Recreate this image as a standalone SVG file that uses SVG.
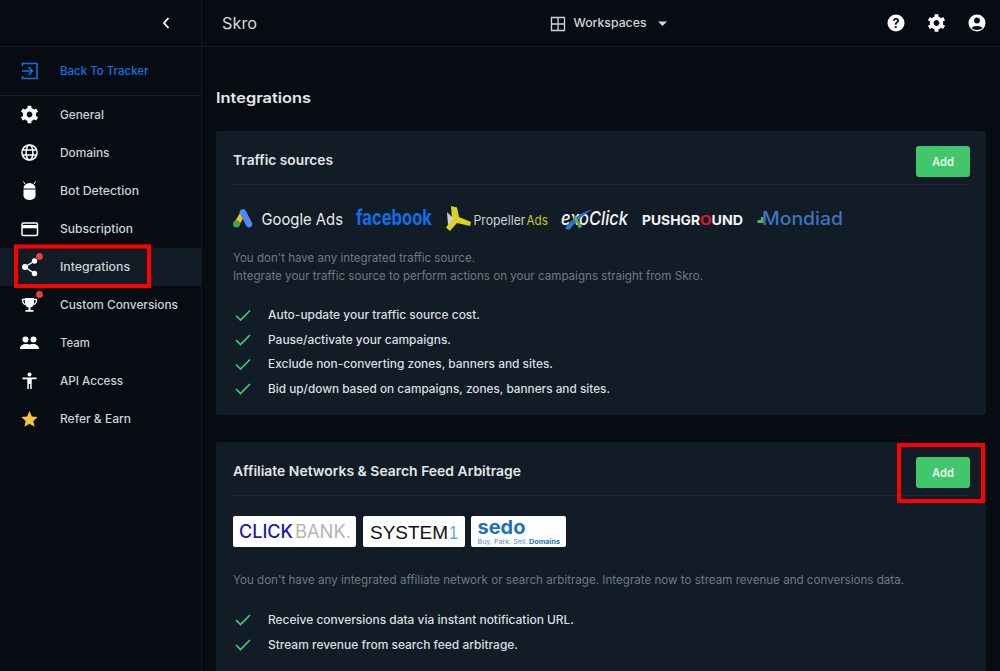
<svg xmlns="http://www.w3.org/2000/svg" xmlns:xlink="http://www.w3.org/1999/xlink" width="1000" height="671" viewBox="0 0 1000 671">
<style>
text{font-family:Inter,"Noto Sans","Liberation Sans",sans-serif}
.m{font-size:11.5px;font-weight:500;fill:#d0d3d6}
.h{font-size:13.5px;font-weight:600;fill:#e4e6e8}
.g{font-size:11.5px;fill:#6f7a82}
.l{font-size:11.5px;font-weight:500;fill:#dcdfe1}
.i{fill:#fff}
.c{fill:none;stroke:#3fd06f;stroke-width:1.6}
.card{fill:#111c26}
.div{stroke:#1c2833;stroke-width:1}
.btn{fill:#42c66b}
.bt{font-size:12px;font-weight:600;fill:#e8f6ec;text-anchor:middle}
.red{fill:none;stroke:#f00;stroke-width:4}
.logo{fill:#fff}
.dot{fill:#f03c3c}
</style>
<defs>
<g id="gear">
<circle r="4.800" fill="none" stroke="#fff" stroke-width="3.800"/>
<path id="teeth" d="M-1.900-8.800h3.800v3.500h-3.800zM-1.900 5.300h3.800v3.500h-3.800z" fill="#fff"/>
<path d="M-1.900-8.800h3.800v3.500h-3.800zM-1.900 5.300h3.800v3.500h-3.800z" fill="#fff" transform="rotate(60)"/>
<path d="M-1.900-8.800h3.800v3.500h-3.800zM-1.900 5.300h3.800v3.500h-3.800z" fill="#fff" transform="rotate(-60)"/>
</g>
</defs>
<rect width="1000" height="671" fill="#070c13"/>
<g id="chrome">
<path d="M0 46.500H1000M201.500 0V671" stroke="#141b23" stroke-width="1"/>
<path d="M0 95.500H201" stroke="#1a212a" stroke-width="1"/>
<path d="M168.500 18L164 23l4.500 5" fill="none" stroke="#fff" stroke-width="1.800"/>
<text x="222" y="29" font-size="16" fill="#d8dadc" textLength="35" lengthAdjust="spacingAndGlyphs">Skro</text>
</g>
<g id="workspaces">
<path d="M551.500 17.500h13v13h-13zM558 17.500v13M551.500 24h13" fill="none" stroke="#cfd2d4" stroke-width="1.300"/>
<text x="573.500" y="27" font-size="11.500" font-weight="500" fill="#d5d8da" textLength="73" lengthAdjust="spacingAndGlyphs">Workspaces</text>
<path d="M658 21.500h9l-4.500 4.500z" fill="#d5d8da"/>
</g>
<g id="top-icons">
<circle cx="896" cy="23" r="8.500" fill="#fff"/>
<text x="896" y="27.500" font-size="12.500" font-weight="700" fill="#070c13" text-anchor="middle">?</text>
<use xlink:href="#gear" href="#gear" x="936.500" y="23"/>
<circle cx="977" cy="23" r="8.500" fill="#fff"/>
<circle cx="977" cy="20.500" r="2.900" fill="#070c13"/>
<path d="M971.500 28c1-2.800 10-2.800 11 0-2.500 2.600-8.500 2.600-11 0z" fill="#070c13"/>
</g>
<g id="menu-back">
<path d="M22.500 66v-2.500h14.500v15h-14.500V76" fill="none" stroke="#0f72e5" stroke-width="1.600"/>
<path d="M22 71h10M28.500 67l4 4-4 4" fill="none" stroke="#0f72e5" stroke-width="1.600"/>
<text x="60" y="75" class="m" style="fill:#0f72e5" textLength="88.500" lengthAdjust="spacingAndGlyphs">Back To Tracker</text>
</g>
<g id="menu-general">
<use xlink:href="#gear" href="#gear" x="29.500" y="114.500"/>
<text x="60" y="118.500" class="m" textLength="44" lengthAdjust="spacingAndGlyphs">General</text>
</g>
<g id="menu-domains">
<g fill="none" stroke="#fff" stroke-width="1.500"><circle cx="29.500" cy="152.500" r="7.600"/><ellipse cx="29.500" cy="152.500" rx="3.400" ry="7.600"/><path d="M22.500 150h14M22.500 155h14"/></g>
<text x="60" y="156.500" class="m" textLength="49.500" lengthAdjust="spacingAndGlyphs">Domains</text>
</g>
<g id="menu-bot">
<path d="M23.500 189.500h12v6.500a6 4 0 0 1-12 0zM23.500 188.500a6 5.500 0 0 1 12 0z" class="i"/>
<path d="M25 184l-1.500-2.500M34 184l1.500-2.500" stroke="#fff" stroke-width="1"/>
<text x="60" y="194.500" class="m" textLength="79" lengthAdjust="spacingAndGlyphs">Bot Detection</text>
</g>
<g id="menu-subscription">
<rect x="22" y="223" width="15.500" height="12.500" rx="1.500" fill="none" stroke="#fff" stroke-width="1.500"/>
<rect x="22" y="225" width="15.500" height="3.300" class="i"/>
<text x="60" y="232.500" class="m" textLength="73" lengthAdjust="spacingAndGlyphs">Subscription</text>
</g>
<g id="menu-integrations">
<rect x="0" y="248" width="201" height="38" fill="#111c26"/>
<path d="M34.500 261L25 267l9.500 6.500" fill="none" stroke="#fff" stroke-width="1.400"/>
<circle cx="25" cy="267" r="3" class="i"/><circle cx="34.500" cy="261" r="2.700" class="i"/><circle cx="34.500" cy="273.500" r="2.700" class="i"/>
<circle cx="39.500" cy="256.500" r="3.400" class="dot"/>
<text x="60" y="270.500" class="m" textLength="70" lengthAdjust="spacingAndGlyphs">Integrations</text>
<rect x="16" y="246.500" width="133" height="39.500" class="red"/>
</g>
<g id="menu-conversions">
<path d="M25 298h9v5a4.500 4.500 0 0 1-9 0z" class="i"/>
<path d="M25 299.500h-2.500c0 3 .8 4.500 3 5M34 299.500h2.500c0 3-.8 4.500-3 5" fill="none" stroke="#fff" stroke-width="1.300"/>
<path d="M28.500 307h2v3h-2zM25.500 310h8v1.800h-8z" class="i"/>
<circle cx="39.500" cy="294.500" r="3.400" class="dot"/>
<text x="60" y="308.500" class="m" textLength="118" lengthAdjust="spacingAndGlyphs">Custom Conversions</text>
</g>
<g id="menu-team">
<circle cx="25.500" cy="339.500" r="3" class="i"/><circle cx="33.500" cy="339.500" r="3" class="i"/>
<path d="M20 349c0-3.500 3-5 5.500-5s4 .7 4 .7 1.500-.7 4-.7 5.500 1.500 5.500 5z" class="i"/>
<text x="60" y="346.500" class="m" textLength="30" lengthAdjust="spacingAndGlyphs">Team</text>
</g>
<g id="menu-api">
<circle cx="29.500" cy="374.500" r="2" class="i"/>
<path d="M22.500 377.500h14v1.700h-4.800V389h-1.500v-5h-1.400v5h-1.500v-9.800h-4.800z" class="i"/>
<text x="60" y="384.500" class="m" textLength="63" lengthAdjust="spacingAndGlyphs">API Access</text>
</g>
<g id="menu-refer">
<path d="M29.500 411l2.400 5.400 5.800.6-4.400 3.900 1.300 5.800-5.100-3-5.100 3 1.300-5.800-4.400-3.900 5.800-.6z" fill="#f8c63b"/>
<text x="60" y="422.500" class="m" textLength="71" lengthAdjust="spacingAndGlyphs">Refer &amp; Earn</text>
</g>
<text x="216" y="103" font-size="14.500" font-weight="600" fill="#e6e8ea" textLength="95" lengthAdjust="spacingAndGlyphs">Integrations</text>
<g id="card-traffic">
<rect x="216" y="131" width="770" height="284" rx="3" class="card"/>
<text x="233" y="165" class="h" textLength="100" lengthAdjust="spacingAndGlyphs">Traffic sources</text>
<path d="M233 184.500H970" class="div"/>
<rect x="916" y="146" width="54" height="31" rx="3" class="btn"/>
<text x="943" y="165.500" class="bt" textLength="22" lengthAdjust="spacingAndGlyphs">Add</text>
<g id="logo-google">
<path d="M237 223.500l6-10.500" stroke="#f8bc15" stroke-width="5.500" stroke-linecap="round"/>
<path d="M243 212.500l6 11.500" stroke="#4a8af4" stroke-width="6.500" stroke-linecap="round"/>
<circle cx="236.500" cy="224" r="3.500" fill="#34a853"/>
<text x="261.500" y="225" font-size="16.500" fill="#e9eaeb" textLength="81.500" lengthAdjust="spacingAndGlyphs">Google Ads</text>
</g>
<text x="356" y="225" font-size="21" font-weight="700" fill="#0f6fe6" textLength="76" lengthAdjust="spacingAndGlyphs">facebook</text>
<g id="logo-propeller">
<path d="M451 206l6 1.500 2 9.500 12 5-1 4-13-3-7 8-4-3.500 6-8z" fill="#dcd31f"/>
<path d="M447 212l7 7-6 6z" fill="#cfcfcf"/>
<text x="473.500" y="225" font-size="13" fill="#cfd2d4" textLength="52" lengthAdjust="spacingAndGlyphs">Propeller</text>
<text x="526.500" y="225" font-size="13" fill="#cdc722" textLength="21.500" lengthAdjust="spacingAndGlyphs">Ads</text>
</g>
<g id="logo-exoclick">
<text x="561" y="225" font-size="19" font-style="italic" font-weight="500" fill="#f4f5f6" textLength="67" lengthAdjust="spacingAndGlyphs">exoClick</text>
<path d="M565 228.500c5-8 14-15 28-19.500-9 5-17 12-24 21z" fill="#2a74c9"/>
<path d="M575 215l7 12-3 1-6-11z" fill="#6cae3e"/>
</g>
<g id="logo-pushground">
<text x="642" y="225" font-size="13.500" font-weight="700" fill="#f2f3f4" textLength="58" lengthAdjust="spacingAndGlyphs">PUSHGR</text>
<text x="700" y="225" font-size="13.500" font-weight="700" fill="#e8161c" textLength="11.500" lengthAdjust="spacingAndGlyphs">O</text>
<text x="711.500" y="225" font-size="13.500" font-weight="700" fill="#f2f3f4" textLength="31.500" lengthAdjust="spacingAndGlyphs">UND</text>
</g>
<g id="logo-mondiad">
<path d="M757.500 220h3.500v-3h2.500v6h-6z" fill="#4cc04f"/>
<text x="762" y="225" font-size="18" font-weight="500" fill="#3f72bf" textLength="81" lengthAdjust="spacingAndGlyphs">Mondiad</text>
</g>
<text x="233" y="262" class="g" textLength="242" lengthAdjust="spacingAndGlyphs">You don't have any integrated traffic source.</text>
<text x="233" y="280" class="g" textLength="470" lengthAdjust="spacingAndGlyphs">Integrate your traffic source to perform actions on your campaigns straight from Skro.</text>
<path d="M236 315.500l4.500 4.500 9.500-9.500M236 340l4.500 4.500 9.500-9.500M236 364.500l4.500 4.500 9.500-9.500M236 389l4.500 4.500 9.500-9.500" class="c"/>
<text x="268" y="319" class="l" textLength="212" lengthAdjust="spacingAndGlyphs">Auto-update your traffic source cost.</text>
<text x="268" y="344" class="l" textLength="183" lengthAdjust="spacingAndGlyphs">Pause/activate your campaigns.</text>
<text x="268" y="368" class="l" textLength="285" lengthAdjust="spacingAndGlyphs">Exclude non-converting zones, banners and sites.</text>
<text x="268" y="393" class="l" textLength="342" lengthAdjust="spacingAndGlyphs">Bid up/down based on campaigns, zones, banners and sites.</text>
</g>
<g id="card-affiliate">
<path d="M216 671V445a3 3 0 0 1 3-3H983a3 3 0 0 1 3 3V671z" class="card"/>
<text x="233" y="476" class="h" textLength="288" lengthAdjust="spacingAndGlyphs">Affiliate Networks &amp; Search Feed Arbitrage</text>
<path d="M233 495.500H970" class="div"/>
<rect x="916" y="457" width="54" height="31" rx="3" class="btn"/>
<text x="943" y="476.500" class="bt" textLength="22" lengthAdjust="spacingAndGlyphs">Add</text>
<rect x="899" y="445" width="84" height="56" class="red"/>
<g id="logo-clickbank">
<rect x="233" y="516" width="123" height="31" rx="2" class="logo"/>
<text x="239" y="537.500" font-size="18" font-weight="500" fill="#1e1aa5" textLength="54" lengthAdjust="spacingAndGlyphs">CLICK</text>
<text x="295" y="537.500" font-size="18" fill="#b4b5b8" textLength="56" lengthAdjust="spacingAndGlyphs">BANK.</text>
</g>
<g id="logo-system1">
<rect x="363" y="516" width="102" height="31" rx="2" class="logo"/>
<text x="370" y="539" font-size="19" style="font-family:'Liberation Sans',sans-serif" fill="#111" textLength="78" lengthAdjust="spacingAndGlyphs">SYSTEM</text>
<text x="449" y="539" font-size="19" style="font-family:'Liberation Sans',sans-serif" fill="#5aade6" textLength="9" lengthAdjust="spacingAndGlyphs">1</text>
</g>
<g id="logo-sedo">
<rect x="471" y="516" width="95" height="31" rx="2" class="logo"/>
<text x="477.500" y="534" font-size="19" font-weight="700" fill="#1e73b8" textLength="48" lengthAdjust="spacingAndGlyphs">sedo</text>
<text x="477.500" y="543.500" font-size="6" fill="#4b8fc6" textLength="50" lengthAdjust="spacingAndGlyphs">Buy. Park. Sell.</text>
<text x="529" y="543.500" font-size="6" font-weight="700" fill="#1e73b8" textLength="31" lengthAdjust="spacingAndGlyphs">Domains</text>
</g>
<text x="233" y="584" class="g" textLength="671" lengthAdjust="spacingAndGlyphs">You don't have any integrated affiliate network or search arbitrage. Integrate now to stream revenue and conversions data.</text>
<path d="M236 620l4.500 4.500 9.500-9.500M236 645l4.500 4.500 9.500-9.500" class="c"/>
<text x="268" y="624" class="l" textLength="306" lengthAdjust="spacingAndGlyphs">Receive conversions data via instant notification URL.</text>
<text x="268" y="649" class="l" textLength="250" lengthAdjust="spacingAndGlyphs">Stream revenue from search feed arbitrage.</text>
</g>
</svg>
